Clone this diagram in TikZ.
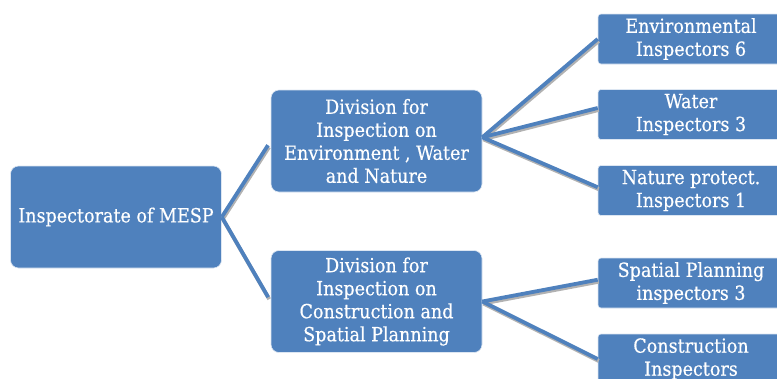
\documentclass[tikz,border=0pt]{standalone}
\usepackage{fontspec}
\setmainfont{DejaVu Serif Condensed}[FakeBold=0.4]
\usepackage{tikz}
\definecolor{boxblue}{HTML}{4F81BD}

\begin{document}
\begin{tikzpicture} [
    x=1pt, y=-1pt,
    box/.style = {rectangle, rounded corners=8pt, fill=boxblue, draw=white!80!boxblue,
        line width=0.6pt, text=white, align=center, inner sep=0pt,
        font=\fontsize{19.5}{23}\selectfont},
    division/.style = {box, minimum width=211pt, minimum height=102pt},
    leaf/.style = {box, rounded corners=3pt, minimum width=186pt, minimum height=50pt},
    link/.style = {draw=boxblue, line width=3.8pt,
        preaction={draw=black!30, line width=3.8pt, transform canvas={xshift=1pt, yshift=-2pt}}}
]
    \useasboundingbox (0,0) rectangle (777,378);
    \clip (0,0) rectangle (777,378);

    \node[division] (mesp) at (116,217) {Inspectorate of MESP};
    \node[division] (envdiv) at (376.5,141) {Division for\\Inspection on\\Environment , Water\\and Nature};
    \node[division] (spdiv) at (376.5,301.5) {Division for\\Inspection on\\Construction and\\Spatial Planning};

    \node[leaf] (env) at (691,39) {Environmental\\Inspectors 6};
    \node[leaf] (water) at (691,114.5) {Water\\Inspectors 3};
    \node[leaf] (nature) at (691,190.5) {Nature protect.\\Inspectors 1};
    \node[leaf] (spatial) at (691,283) {Spatial Planning\\inspectors 3};
    \node[leaf] (constr) at (691,359) {Construction\\Inspectors};

    % root to the two divisions
    \draw[link, shorten >=5pt] (mesp.east) -- (envdiv.west);
    \draw[link, shorten >=5pt] (mesp.east) -- (spdiv.west);

    % divisions to their inspectors
    \draw[link] (envdiv.2) -- (env.west);
    \draw[link] (envdiv.2) -- (water.176);
    \draw[link] (envdiv.2) -- (nature.178);
    \draw[link] (spdiv.east) -- (spatial.178);
    \draw[link] (spdiv.east) -- (constr.west);
\end{tikzpicture}
\end{document}
